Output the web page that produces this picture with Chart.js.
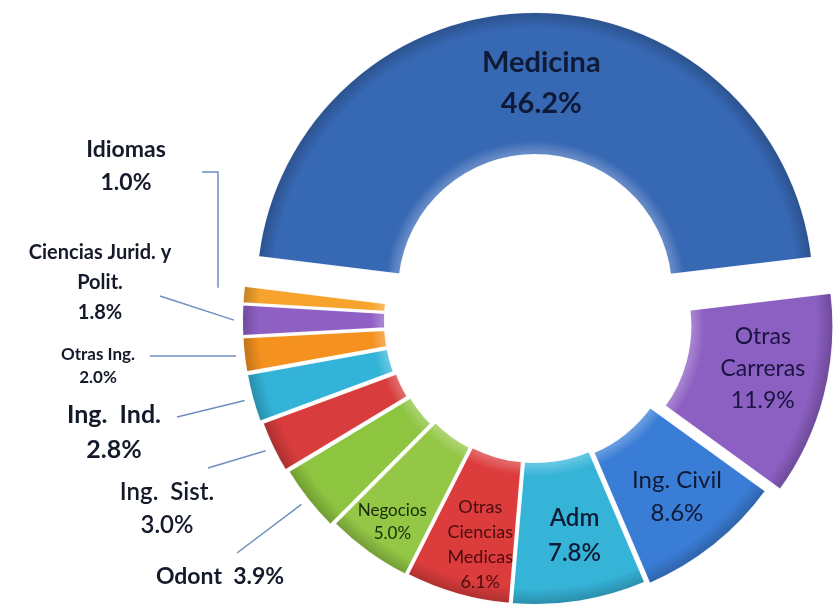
<!DOCTYPE html>
<html>
<head>
<meta charset="utf-8">
<script src="https://cdn.jsdelivr.net/npm/chart.js@4.4.0/dist/chart.umd.min.js"></script>
<style>
	html, body { margin: 0; padding: 0; background: #fff; }
</style>
</head>
<body>
<canvas id="myChart" width="835" height="607"></canvas>
<script>
// datos
const categories = ['Medicina', 'Otras Carreras', 'Ing. Civil', 'Adm', 'Otras Ciencias Medicas', 'Negocios',
	'Odont', 'Ing. Sist.', 'Ing. Ind.', 'Otras Ing.', 'Ciencias Jurid. y Polit.', 'Idiomas'];
const shares = [46.2, 11.9, 8.6, 7.8, 6.1, 5.0, 3.9, 3.0, 2.8, 2.0, 1.8, 1.0];
const sliceColors = ['#3768b4', '#8c5fc2', '#3a7dd6', '#36b4d8', '#dc3c3c', '#93c745',
	'#8dc440', '#d83c3c', '#33b3d8', '#f5911f', '#8e60c4', '#f6a42e'];
// desplazamiento (explosion) de cada sector, en px
const explode = [30, 20, 8, 5, 5, 6, 10, 12, 14, 14, 14, 14];
const outerR = 279, innerR = 139;

// texto de cada etiqueta (el porcentaje se agrega desde shares)
const labelLines = [
	['Medicina'], ['Otras', 'Carreras'], ['Ing. Civil'], ['Adm'], ['Otras', 'Ciencias', 'Medicas'], ['Negocios'],
	['Odont'], ['Ing.  Sist.'], ['Ing.  Ind.'], ['Otras Ing.'], ['Ciencias Jurid. y', 'Polit.'], ['Idiomas']
];

// estilo de etiquetas: inside -> r relativo dentro del anillo; outside -> posicion del texto
const labelStyle = [
	{ inside: true, r: 0.5, dx: 6, dy: 0, size: 29, weight: 'bold', lh: 41, color: '#0f1a36' },
	{ inside: true, r: 0.54, dx: 2, dy: -11, size: 23, weight: 'normal', lh: 32, color: '#1a1440' },
	{ inside: true, r: 0.54, dx: 4, dy: 3, size: 24, weight: 'normal', lh: 33, color: '#0f1a36' },
	{ inside: true, r: 0.54, dx: 5, dy: -1, size: 24, weight: '600', lh: 35, color: '#0f1a36' },
	{ inside: true, r: 0.59, dx: 7, dy: 7, size: 18, weight: 'normal', lh: 25, color: '#4a0c0c' },
	{ inside: true, r: 0.71, dx: 0, dy: 4, size: 17, weight: 'normal', lh: 23, color: '#1a2a0a' },
	{ inside: false, tx: 220, ty: 577, size: 23, weight: 'bold', lh: 34, inline: true, lx: 237, ly: 553 },
	{ inside: false, tx: 167, ty: 492, size: 24, weight: '600', lh: 33, lx: 208, ly: 468 },
	{ inside: false, tx: 114, ty: 415, size: 25, weight: 'bold', lh: 35, lx: 177, ly: 417 },
	{ inside: false, tx: 98, ty: 355, size: 17, weight: 'bold', lh: 23, lx: 150, ly: 356 },
	{ inside: false, tx: 100, ty: 253, size: 20, weight: 'bold', lh: 30, lx: 160, ly: 296 },
	{ inside: false, tx: 126, ty: 150, size: 23, weight: 'bold', lh: 33, lx: 202, ly: 172, elbow: 218 }
];

function shade(hex, amt) {
	const n = parseInt(hex.slice(1), 16);
	let r = n >> 16, g = (n >> 8) & 255, b = n & 255;
	const f = function (c) { return Math.round(amt >= 0 ? c + (255 - c) * amt : c * (1 + amt)); };
	return 'rgb(' + f(r) + ',' + f(g) + ',' + f(b) + ')';
}

// relleno con un leve degradado radial para dar relieve
function sliceFill(context) {
	const chart = context.chart;
	const area = chart.chartArea;
	const base = sliceColors[context.dataIndex];
	if (!area) return base;
	const cx = (area.left + area.right) / 2, cy = (area.top + area.bottom) / 2;
	const g = chart.ctx.createRadialGradient(cx, cy, innerR, cx, cy, outerR);
	g.addColorStop(0, shade(base, 0.22));
	g.addColorStop(0.08, base);
	g.addColorStop(0.88, base);
	g.addColorStop(1, shade(base, -0.22));
	return g;
}

// dibuja cada sector desplazado hacia afuera
const explodePlugin = {
	id: 'explode',
	beforeDatasetDraw(chart, args) {
		const ctx = chart.ctx;
		args.meta.data.forEach(function (arc, i) {
			const mid = (arc.startAngle + arc.endAngle) / 2;
			ctx.save();
			ctx.translate(Math.cos(mid) * explode[i], Math.sin(mid) * explode[i]);
			arc.draw(ctx);
			ctx.restore();
		});
		return false;
	}
};

const sliceLabels = {
	id: 'sliceLabels',
	afterDatasetsDraw(chart) {
		const ctx = chart.ctx;
		const meta = chart.getDatasetMeta(0);
		ctx.save();
		ctx.textAlign = 'center';
		ctx.textBaseline = 'middle';
		meta.data.forEach(function (arc, i) {
			const st = labelStyle[i];
			const p = arc.getProps(['x', 'y', 'startAngle', 'endAngle', 'innerRadius', 'outerRadius'], true);
			const mid = (p.startAngle + p.endAngle) / 2;
			const cx = p.x + Math.cos(mid) * explode[i];
			const cy = p.y + Math.sin(mid) * explode[i];
			const pct = shares[i].toFixed(1) + '%';
			let lines = labelLines[i].slice();
			let x, y;
			if (st.inside) {
				const r = p.innerRadius + st.r * (p.outerRadius - p.innerRadius);
				x = cx + Math.cos(mid) * r + st.dx;
				y = cy + Math.sin(mid) * r + st.dy;
				lines.push(pct);
				y -= (lines.length - 1) * st.lh / 2;
			} else {
				x = st.tx;
				y = st.ty;
				if (st.inline) lines[lines.length - 1] += '  ' + pct; else lines.push(pct);
				// linea guia hasta el borde del sector
				const r = p.outerRadius + 8;
				const ex = cx + Math.cos(mid) * r;
				const ey = cy + Math.sin(mid) * r;
				ctx.strokeStyle = '#6f8fc0';
				ctx.lineWidth = 1.5;
				ctx.beginPath();
				ctx.moveTo(st.lx, st.ly);
				if (st.elbow) {
					ctx.lineTo(st.elbow, st.ly);
					ctx.lineTo(st.elbow, ey - 6);
				} else {
					ctx.lineTo(ex, ey);
				}
				ctx.stroke();
			}
			ctx.fillStyle = st.color || '#141a2a';
			ctx.font = st.weight + ' ' + st.size + 'px Lato, "Open Sans", sans-serif';
			lines.forEach(function (t, k) {
				ctx.fillText(t, x, y + k * st.lh);
			});
		});
		ctx.restore();
	}
};

var ctx1 = document.getElementById('myChart').getContext('2d');
var myChart = new Chart(ctx1, {
	type: 'doughnut',
	data: {
		labels: categories,
		datasets: [{
			data: shares,
			backgroundColor: sliceFill,
			borderColor: 'rgba(255,255,255,0.95)',
			borderWidth: 2
		}]
	},
	options: {
		responsive: false,
		animation: false,
		rotation: -83,
		radius: outerR,
		cutout: innerR,
		layout: { padding: { left: 235, right: 0, top: 35, bottom: 0 } },
		plugins: {
			legend: { display: false },
			tooltip: { enabled: false }
		}
	},
	plugins: [explodePlugin, sliceLabels]
});
</script>
</body>
</html>
